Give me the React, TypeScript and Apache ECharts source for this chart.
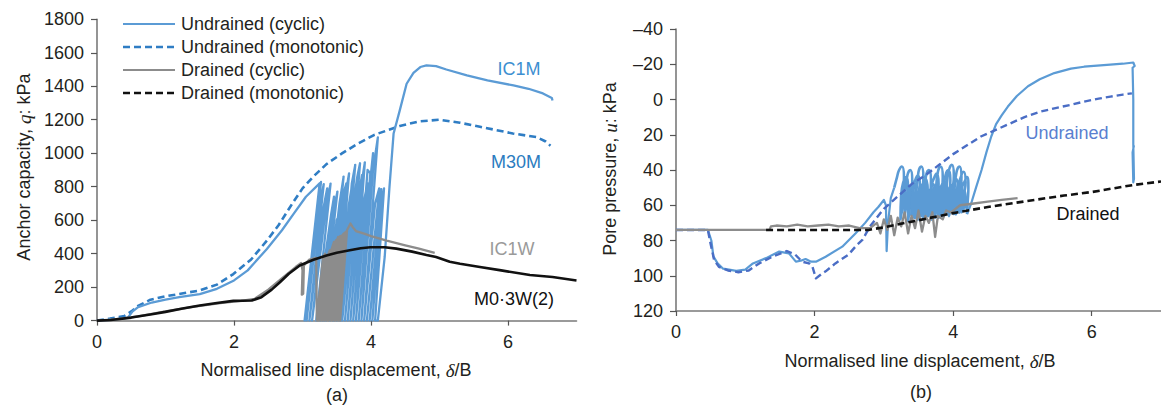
import React, { useEffect, useRef } from "react";
import * as echarts from "echarts";

// ---------- data ----------
type Pt = [number, number];

const xTicks = [0, 2, 4, 6];

// (a) anchor capacity q (kPa) vs normalised displacement δ/B
const capUndrainedMono: Pt[] = [
  [0, 0], [0.19, 12], [0.4, 28], [0.5, 55], [0.6, 88], [0.78, 125], [1.0, 145], [1.26, 163],
  [1.5, 180], [1.75, 215], [1.99, 278], [2.25, 365], [2.48, 478], [2.65, 570], [2.85, 698],
  [3.0, 790], [3.15, 857], [3.35, 935], [3.57, 997], [3.8, 1055], [4.05, 1110], [4.42, 1162],
  [4.7, 1190], [5.0, 1200], [5.3, 1182], [5.59, 1158], [6.07, 1118], [6.42, 1096], [6.55, 1070],
  [6.62, 1045],
];

const capUndrainedCyclic: Pt[] = [
  [0, 0], [0.2, 4], [0.45, 18], [0.52, 55], [0.6, 80], [0.8, 108], [1.0, 125], [1.2, 140],
  [1.5, 158], [1.75, 190], [2.0, 240], [2.2, 300], [2.48, 428], [2.7, 540], [2.87, 638],
  [3.05, 740], [3.25, 820],
  [3.03, 0], [3.2, 600], [3.27, 828], [3.06, 0], [3.25, 700], [3.31, 815], [3.1, 0], [3.3, 660],
  [3.36, 790], [3.14, 0], [3.35, 700], [3.41, 818], [3.2, 0], [3.42, 640], [3.46, 740], [3.26, 0],
  [3.47, 690], [3.51, 770], [3.3, 0], [3.5, 600], [3.55, 650], [3.34, 0], [3.54, 700], [3.6, 860],
  [3.4, 0], [3.6, 760], [3.64, 820], [3.45, 0], [3.64, 780], [3.68, 880], [3.5, 0], [3.68, 700],
  [3.72, 800], [3.55, 0], [3.72, 820], [3.77, 930], [3.58, 0], [3.75, 720], [3.8, 860], [3.62, 0],
  [3.8, 860], [3.84, 940], [3.66, 0], [3.83, 780], [3.87, 870], [3.7, 0], [3.87, 840], [3.91, 945],
  [3.74, 0], [3.9, 720], [3.95, 820], [3.78, 0], [3.95, 900], [3.99, 880], [3.82, 0], [3.98, 800],
  [4.03, 1000], [3.86, 0], [4.03, 900], [4.1, 1095], [3.9, 0], [4.06, 700], [4.12, 790], [3.94, 0],
  [4.1, 700], [4.15, 785], [3.98, 0], [4.13, 650], [4.17, 770], [4.02, 0], [4.15, 700], [4.19, 790],
  [4.06, 0], [4.1, 0],
  [4.2, 380], [4.27, 800], [4.33, 1118], [4.42, 1256], [4.52, 1415], [4.62, 1480], [4.72, 1515],
  [4.81, 1525], [4.95, 1520], [5.1, 1500], [5.4, 1465], [5.7, 1435], [6.08, 1405], [6.3, 1385],
  [6.51, 1357], [6.64, 1330], [6.65, 1315],
];

const capDrainedCyclic: Pt[] = [
  [0, 0], [0.3, 8], [0.6, 25], [1.0, 55], [1.4, 82], [1.8, 105], [2.1, 118], [2.3, 130],
  [2.5, 185], [2.72, 259], [2.9, 320], [2.98, 345], [3.0, 300], [2.99, 155], [3.01, 160],
  [3.02, 330], [3.1, 365], [3.2, 375],
  [3.21, 0], [3.3, 380], [3.33, 400], [3.23, 0], [3.32, 360], [3.36, 390], [3.26, 0], [3.36, 380],
  [3.4, 420], [3.29, 0], [3.39, 400], [3.43, 430], [3.32, 0], [3.42, 420], [3.46, 470], [3.35, 0],
  [3.45, 440], [3.49, 480], [3.38, 0], [3.48, 450], [3.52, 500], [3.41, 0], [3.51, 480], [3.55, 505],
  [3.44, 0], [3.54, 470], [3.58, 510], [3.47, 0], [3.57, 500], [3.6, 520], [3.5, 0], [3.6, 510],
  [3.63, 530], [3.53, 0], [3.55, 0], [3.65, 540], [3.7, 580], [3.73, 560], [3.78, 535], [3.9, 520],
  [4.0, 505], [4.23, 478], [4.5, 450], [4.7, 430], [4.93, 405],
];

const capDrainedMono: Pt[] = [
  [0, 0], [0.2, 4], [0.5, 18], [0.8, 38], [1.0, 52], [1.25, 72], [1.5, 90], [1.75, 105],
  [1.99, 118], [2.26, 120], [2.4, 140], [2.55, 185], [2.67, 229], [2.8, 280], [2.96, 329],
  [3.15, 362], [3.35, 389], [3.5, 405], [3.69, 420], [3.85, 432], [3.99, 438], [4.2, 438],
  [4.37, 430], [4.6, 412], [4.81, 392], [4.95, 380], [5.15, 352], [5.3, 340], [5.59, 320],
  [5.9, 300], [6.32, 272], [6.65, 260], [7.0, 240],
];

// (b) pore pressure u (kPa) vs normalised displacement δ/B
// undrained cyclic test: build-up before cycling, the cyclic loops, and the dilation after
const poreUndrainedPre: Pt[] = [
  [0, 74], [0.46, 74], [0.51, 80], [0.54, 89], [0.6, 93], [0.68, 96], [0.87, 97.2], [1.0, 96.5],
  [1.11, 93], [1.3, 90], [1.49, 86.3], [1.63, 87.3], [1.73, 92], [1.8, 91.5], [1.87, 90.5],
  [1.95, 92], [2.02, 92], [2.16, 89.2], [2.4, 83.5], [2.59, 76], [2.73, 70], [2.85, 64],
  [2.92, 61], [3.0, 57], [3.03, 60], [3.04, 86], [3.06, 70], [3.1, 56], [3.15, 50],
];

const poreUndrainedLoops: Pt[] = [
  [3.15, 50], [3.19, 44], [3.22, 40], [3.26, 38], [3.29, 44], [3.27, 60], [3.24, 68],
  [3.25, 54], [3.28, 47], [3.32, 44], [3.35, 50], [3.33, 58],
  [3.3, 66], [3.31, 52], [3.34, 43], [3.38, 40], [3.41, 46], [3.39, 56],
  [3.35, 69], [3.36, 55], [3.39, 50], [3.43, 47], [3.46, 53], [3.44, 59],
  [3.41, 65], [3.42, 51], [3.45, 46], [3.49, 43], [3.52, 49], [3.5, 55],
  [3.46, 67], [3.47, 53], [3.5, 41], [3.54, 38], [3.57, 44], [3.55, 57],
  [3.52, 64], [3.53, 50], [3.56, 48], [3.6, 45], [3.63, 51], [3.61, 54],
  [3.57, 68], [3.58, 54], [3.61, 43], [3.65, 40], [3.68, 46], [3.66, 58],
  [3.63, 66], [3.64, 52], [3.67, 51], [3.71, 48], [3.74, 54], [3.72, 56],
  [3.68, 63], [3.69, 49], [3.72, 45], [3.76, 42], [3.79, 48], [3.77, 53],
  [3.74, 67], [3.75, 53], [3.78, 41], [3.82, 38], [3.85, 44], [3.83, 57],
  [3.79, 65], [3.8, 51], [3.83, 49], [3.87, 46], [3.9, 52], [3.88, 55],
  [3.85, 66], [3.86, 52], [3.89, 43], [3.93, 40], [3.96, 46], [3.94, 56],
  [3.9, 62], [3.91, 48], [3.94, 40], [3.98, 37], [4.01, 43], [3.99, 52],
  [3.96, 64], [3.97, 50], [4.0, 48], [4.04, 45], [4.07, 51], [4.05, 54],
  [4.01, 65], [4.02, 51], [4.05, 41], [4.09, 38], [4.12, 44], [4.1, 55],
  [4.07, 63], [4.08, 49], [4.11, 44], [4.15, 41], [4.18, 47], [4.16, 53],
  [4.12, 64], [4.13, 50], [4.16, 47], [4.2, 44], [4.22, 50], [4.21, 58], [4.2, 65],
];

// dense small cycles in the lower part of the loop region
const poreUndrainedBand: Pt[] = [
  [3.4, 66], [3.42, 50], [3.44, 67], [3.47, 52], [3.49, 68], [3.52, 49], [3.54, 66], [3.57, 51],
  [3.59, 67], [3.62, 48], [3.64, 66], [3.67, 52], [3.69, 68], [3.72, 50], [3.74, 65], [3.77, 49],
  [3.79, 67], [3.82, 51], [3.84, 66], [3.87, 48], [3.89, 65], [3.92, 50], [3.94, 66], [3.97, 49],
  [3.99, 64], [4.02, 51], [4.04, 65], [4.07, 48], [4.09, 64], [4.12, 50], [4.14, 63], [4.17, 52],
  [4.19, 62],
];

const poreUndrainedPost: Pt[] = [
  [4.2, 65], [4.26, 59], [4.33, 50], [4.41, 40], [4.48, 30], [4.55, 21], [4.62, 14], [4.7, 9],
  [4.79, 4], [4.92, -2], [5.08, -7.5], [5.25, -11.5], [5.46, -15], [5.7, -17.5], [5.89, -18.6],
  [6.22, -19.6], [6.45, -20.3], [6.6, -21], [6.62, -19], [6.59, -18], [6.6, 0], [6.6, 25],
  [6.61, 45], [6.6, 47], [6.59, 30], [6.61, 26],
];

const poreUndrainedMono: Pt[] = [
  [0, 74], [0.46, 74], [0.5, 82], [0.55, 91], [0.62, 95], [0.75, 97], [0.9, 98], [1.05, 97],
  [1.2, 93], [1.4, 89], [1.6, 86], [1.72, 88], [1.82, 92], [1.92, 93], [1.97, 95], [2.02, 101.5],
  [2.1, 99], [2.16, 97.5], [2.3, 93], [2.49, 88], [2.6, 83], [2.69, 79.7], [2.8, 72], [2.92, 66],
  [3.0, 62], [3.2, 55], [3.4, 48], [3.6, 43], [3.8, 37], [4.0, 31], [4.2, 26], [4.4, 21],
  [4.6, 17.5], [4.8, 14], [5.03, 10], [5.25, 7], [5.46, 5], [5.7, 3], [5.89, 1.2], [6.1, -0.5],
  [6.27, -1.6], [6.45, -2.8], [6.58, -3.5],
];

const poreDrainedCyclic: Pt[] = [
  [0, 74], [0.5, 74], [1.0, 74], [1.35, 74], [1.37, 72], [1.45, 71.5], [1.6, 72], [1.75, 71],
  [1.9, 72], [2.05, 71.5], [2.2, 71], [2.35, 72], [2.5, 71.5], [2.65, 73], [2.8, 73], [2.9, 70],
  [2.95, 76], [3.0, 68], [3.05, 74], [3.1, 66], [3.15, 77], [3.2, 67], [3.25, 72], [3.3, 64],
  [3.35, 76], [3.4, 66], [3.45, 73], [3.5, 63], [3.55, 75], [3.6, 66], [3.65, 70], [3.7, 64],
  [3.74, 78], [3.78, 66], [3.85, 68], [3.9, 63], [3.97, 64], [4.1, 60], [4.3, 59], [4.5, 58],
  [4.7, 57], [4.93, 56],
];

const poreDrainedMono: Pt[] = [
  [1.3, 74], [2.0, 74], [2.6, 74], [2.78, 74], [3.0, 72.5], [3.5, 68.5], [3.98, 64.6], [4.5, 61],
  [5.17, 57], [5.6, 54.5], [6.0, 52.5], [6.6, 48.5], [7.0, 46.5],
];

const legendItems = [
  { name: "Undrained (cyclic)", color: "#5b9bd5", dashed: false },
  { name: "Undrained (monotonic)", color: "#2f7dc4", dashed: true },
  { name: "Drained (cyclic)", color: "#8c8c8c", dashed: false },
  { name: "Drained (monotonic)", color: "#111111", dashed: true },
];

// ---------- styling ----------
const FONT = '"Liberation Sans", Arial, Helvetica, sans-serif';
const TEXT = "#231f20";
const C_BLUE = "#5b9bd5";
const C_BLUE_DASH_A = "#2f7dc4";
const C_BLUE_DASH_B = "#4a6dc5";
const C_GREY = "#8c8c8c";
const C_BLACK = "#111111";
const DASH = [7, 4];

function lineSeries(data: Pt[], idx: number, color: string, width: number, dashed = false, smooth: any = false) {
  return {
    type: "line",
    xAxisIndex: idx,
    yAxisIndex: idx,
    data,
    showSymbol: false,
    symbol: "none",
    silent: true,
    smooth,
    lineStyle: { color, width, type: dashed ? DASH : "solid", join: "round" },
  };
}

function xAxisOf(idx: number) {
  return {
    type: "value",
    gridIndex: idx,
    min: 0,
    max: 7,
    interval: 2,
    axisLine: { show: true, onZero: false, lineStyle: { color: "#7a7a7a", width: 1.6 } },
    axisTick: { show: true, length: 5, customValues: xTicks, lineStyle: { color: "#555", width: 1.2 } },
    axisLabel: {
      customValues: xTicks,
      margin: 12,
      fontSize: 18,
      fontFamily: FONT,
      color: TEXT,
      formatter: (v: number) => (v === 7 ? "" : String(v)),
    },
    splitLine: { show: false },
  };
}

function text(x: number, y: number, s: string, color = TEXT, extra: any = {}) {
  return {
    type: "text",
    x,
    y,
    silent: true,
    ...extra,
    style: {
      text: s,
      fill: color,
      fontSize: 18,
      fontFamily: FONT,
      align: "center",
      textAlign: "center",
      verticalAlign: "middle",
      textVerticalAlign: "middle",
      rich: {
        i: { fontStyle: "italic", fontFamily: '"Liberation Serif", "Times New Roman", serif', fontSize: 19, fill: color },
      },
    },
  };
}

export default function App() {
  const ref = useRef<HTMLDivElement>(null);

  useEffect(() => {
    if (!ref.current) return;
    const chart = echarts.init(ref.current, undefined, { renderer: "svg" });

    const legendGraphics: any[] = [];
    legendItems.forEach((it, i) => {
      const y = 24 + i * 23;
      legendGraphics.push({
        type: "line",
        silent: true,
        shape: { x1: 123, y1: y, x2: 175, y2: y },
        style: { stroke: it.color, lineWidth: it.dashed ? 2.5 : 2.2, lineDash: it.dashed ? DASH : null },
      });
      legendGraphics.push({
        type: "text",
        x: 181,
        y,
        silent: true,
        style: {
          text: it.name,
          fill: TEXT,
          fontSize: 18,
          fontFamily: FONT,
          align: "left",
          textAlign: "left",
          verticalAlign: "middle",
          textVerticalAlign: "middle",
        },
      });
    });

    const option: any = {
      animation: false,
      backgroundColor: "#ffffff",
      grid: [
        { left: 97, top: 19.3, width: 479.5, height: 301.3 },
        { left: 676, top: 29, width: 488, height: 282 },
      ],
      xAxis: [xAxisOf(0), xAxisOf(1)],
      yAxis: [
        {
          type: "value",
          gridIndex: 0,
          min: 0,
          max: 1800,
          interval: 200,
          axisLine: { show: true, lineStyle: { color: "#7a7a7a", width: 1.6 } },
          axisTick: { show: true, length: 6, lineStyle: { color: "#555", width: 1.2 } },
          axisLabel: { margin: 13, fontSize: 18, fontFamily: FONT, color: TEXT, formatter: (v: number) => String(v) },
          splitLine: { show: false },
        },
        {
          type: "value",
          gridIndex: 1,
          inverse: true,
          min: -40,
          max: 120,
          interval: 20,
          axisLine: { show: true, onZero: false, lineStyle: { color: "#7a7a7a", width: 1.6 } },
          axisTick: { show: true, length: 6, lineStyle: { color: "#555", width: 1.2 } },
          axisLabel: {
            margin: 13,
            fontSize: 18,
            fontFamily: FONT,
            color: TEXT,
            formatter: (v: number) => (v < 0 ? "\u2013" + Math.abs(v) : String(v)),
          },
          splitLine: { show: false },
        },
      ],
      series: [
        lineSeries(capUndrainedMono, 0, C_BLUE_DASH_A, 2.6, true),
        lineSeries(capUndrainedCyclic, 0, C_BLUE, 2.3),
        lineSeries(capDrainedCyclic, 0, C_GREY, 2.3),
        lineSeries(capDrainedMono, 0, C_BLACK, 2.6),
        lineSeries(poreUndrainedPre, 1, C_BLUE, 2.2),
        lineSeries(poreUndrainedLoops, 1, C_BLUE, 2.6, false, 0.5),
        lineSeries(poreUndrainedBand, 1, C_BLUE, 3.2, false, 0.3),
        lineSeries(poreUndrainedPost, 1, C_BLUE, 2.2),
        lineSeries(poreUndrainedMono, 1, C_BLUE_DASH_B, 2.4, true),
        lineSeries(poreDrainedCyclic, 1, C_GREY, 2.3),
        lineSeries(poreDrainedMono, 1, C_BLACK, 2.6, true),
      ],
      graphic: [
        ...legendGraphics,
        // axis titles
        text(24, 167, "Anchor capacity, {i|q}: kPa", TEXT, { rotation: Math.PI / 2 }),
        text(336, 370, "Normalised line displacement, {i|\u03b4}/B"),
        text(337, 395, "(a)"),
        text(610, 169, "Pore pressure, {i|u}: kPa", TEXT, { rotation: Math.PI / 2 }),
        text(920, 361, "Normalised line displacement, {i|\u03b4}/B"),
        text(921, 392, "(b)"),
        // curve annotations
        text(519, 69, "IC1M", "#3d8fd1"),
        text(516, 162, "M30M", "#2b7cc0"),
        text(512, 249, "IC1W", "#9a9a9a"),
        text(514, 299, "M0\u00b73W(2)", C_BLACK),
        text(1067, 133, "Undrained", "#5a7fd0"),
        text(1088, 214, "Drained", C_BLACK),
      ],
    };

    chart.setOption(option);
    return () => chart.dispose();
  }, []);

  return (
    <div
      ref={ref}
      style={{ position: "absolute", left: 0, top: 0, width: 1161, height: 410, background: "#fff" }}
    />
  );
}
